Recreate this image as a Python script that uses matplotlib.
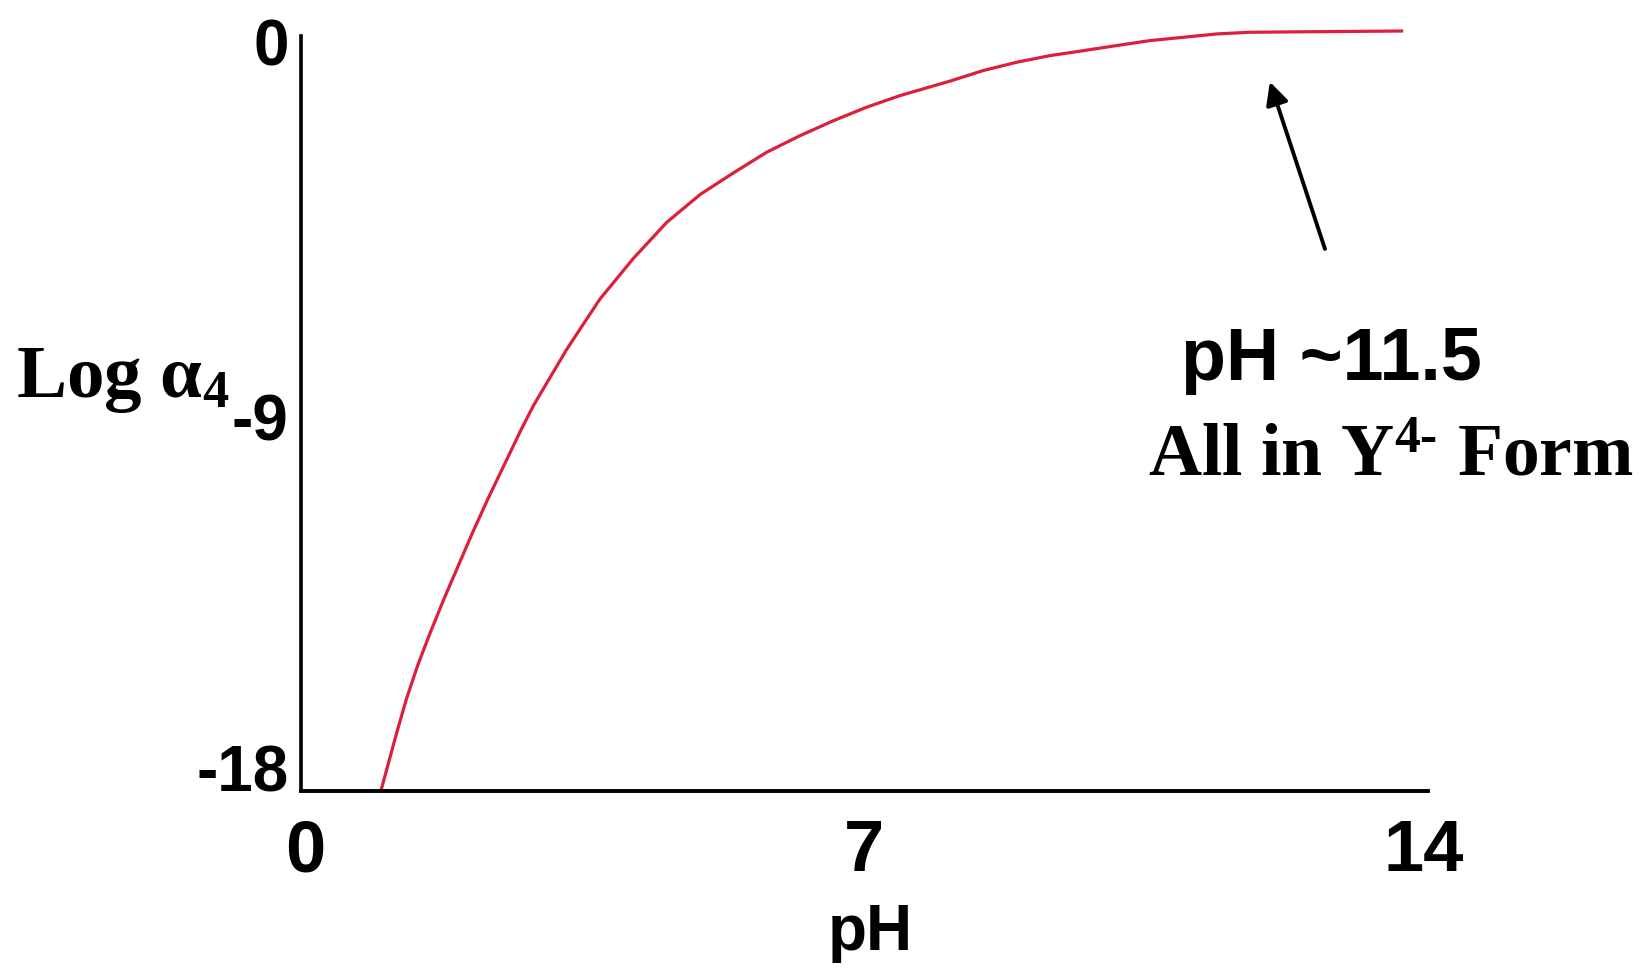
import matplotlib
matplotlib.use('Agg')
import matplotlib.pyplot as plt

# curve: pH vs log alpha4
ph = [0.95, 1.15, 1.27, 1.41, 1.57, 1.74, 1.92, 2.10, 2.29, 2.49, 2.69, 2.86,
      3.28, 3.69, 4.11, 4.53, 4.95, 5.36, 5.78, 6.20, 6.62, 7.03, 7.45, 8.08,
      8.49, 8.91, 9.33, 9.75, 10.16, 10.58, 11.00, 11.42, 11.83, 13.75]
log_a4 = [-18.0, -16.59, -15.79, -14.99, -14.19, -13.39, -12.59, -11.79, -10.99, -10.19, -9.39, -8.75,
          -7.39, -6.20, -5.22, -4.35, -3.68, -3.17, -2.67, -2.27, -1.91, -1.59, -1.31, -0.96,
          -0.71, -0.51, -0.35, -0.23, -0.11, 0.01, 0.09, 0.17, 0.21, 0.24]

x_ticks = [0, 7, 14]
y_ticks = [0, -9, -18]

# arrow: tip and tail in data units
arrow_tip = (12.08, -0.98)
arrow_tail = (12.77, -4.99)

plt.rcParams['mathtext.fontset'] = 'custom'
plt.rcParams['mathtext.rm'] = 'Liberation Serif:bold'
plt.rcParams['mathtext.it'] = 'Liberation Serif:italic:bold'
plt.rcParams['mathtext.bf'] = 'Liberation Serif:bold'

W, H = 1647, 970
fig = plt.figure(figsize=(W / 100, H / 100), dpi=100)
ax = fig.add_axes([301 / W, 1 - 792 / H, (1428 - 301) / W, (792 - 37) / H])

ax.plot(ph, log_a4, color='#dc1f3c', lw=2.3, clip_on=False, solid_capstyle='butt', solid_joinstyle='round')

ax.set_xlim(-0.05, 14.06)
ax.set_ylim(-18, 0.12)
ax.spines['top'].set_visible(False)
ax.spines['right'].set_visible(False)
ax.spines['left'].set_linewidth(2.6)
ax.spines['bottom'].set_linewidth(2.8)

ax.set_xticks(x_ticks)
ax.set_xticklabels([str(t) for t in x_ticks], fontsize=52, fontfamily='Liberation Sans', fontweight='bold')
ax.set_yticks(y_ticks)
ylabels = ax.set_yticklabels([str(t) for t in y_ticks], fontsize=46, fontfamily='Liberation Sans', fontweight='bold')
ylabels[-1].set_va('baseline')
ax.tick_params(axis='x', length=0, pad=19)
ax.tick_params(axis='y', length=0, pad=9)

ax.annotate('', xy=arrow_tip, xytext=arrow_tail,
            arrowprops=dict(arrowstyle='-|>', color='black', lw=2.8, mutation_scale=34, shrinkA=0, shrinkB=0))

def fig_text(x, y, s, **kw):
    fig.text(x / W, 1 - y / H, s, **kw)

fig_text(870, 950, 'pH', fontsize=46, fontfamily='Liberation Sans', fontweight='bold', ha='center', va='baseline')
fig_text(16, 397, r'Log α$_{4}$', fontsize=54, fontfamily='Liberation Serif', fontweight='bold', ha='left', va='baseline')
fig_text(1331, 380, 'pH ~11.5', fontsize=53, fontfamily='Liberation Sans', fontweight='bold', ha='center', va='baseline')
fig_text(1391, 476, r'All in Y$^{\mathrm{4\text{-}}}$ Form', fontsize=53, fontfamily='Liberation Serif', fontweight='bold', ha='center', va='baseline')

fig.savefig('out.png', dpi=100, facecolor='white')
